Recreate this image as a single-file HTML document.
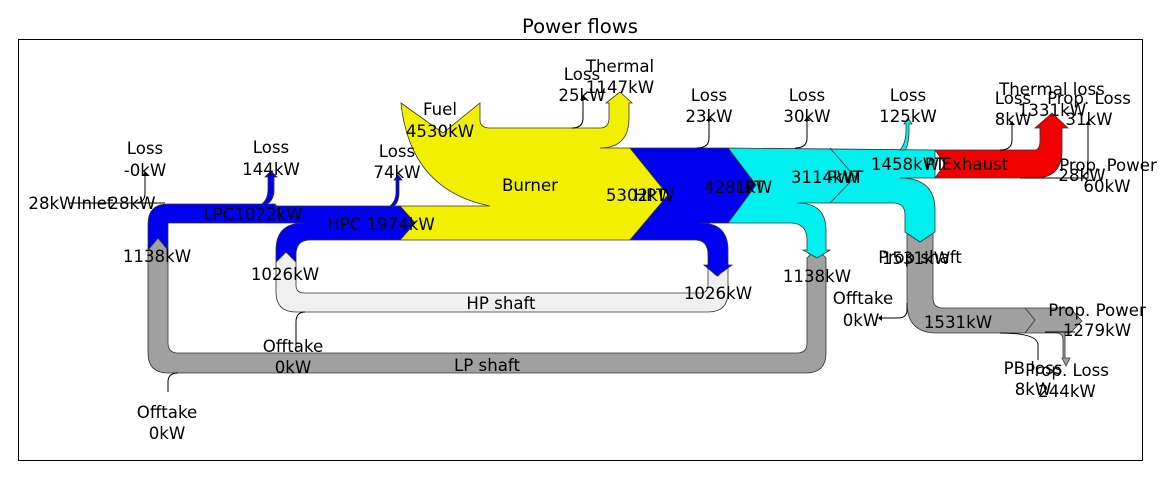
<!DOCTYPE html>
<html><head><meta charset="utf-8"><style>
html,body{margin:0;padding:0;background:#fff}
svg{display:block}
text{font-family:"DejaVu Sans","Liberation Sans",sans-serif;font-size:16.6px;fill:#000;text-anchor:middle}
</style></head><body>
<svg width="1160" height="478" viewBox="0 0 1160 478" xmlns="http://www.w3.org/2000/svg">
<rect x="0" y="0" width="1160" height="478" fill="#fff"/>
<rect x="18.5" y="39.5" width="1124" height="421" fill="none" stroke="#000" stroke-width="1"/>
<text x="580" y="33" style="font-size:19.6px">Power flows</text>

<g stroke="#333" stroke-width="0.8">
<path d="M148,250 L158,238 L168,250 L168,343 Q168,353 178,353 L797,353 Q807,353 807,343 L807,258 L817,248 L826,258 L826,353 Q826,373 806,373 L168,373 Q148,373 148,353 Z" fill="#a0a0a0"/>
<path d="M276,262 L286,252 L296,262 L296,285 Q296,293 304,293 L700,293 Q708,293 708,285 L708,265 L718,276 L728,265 L728,292 Q728,312 708,312 L296,312 Q276,312 276,292 Z" fill="#f0f0f0"/>
<path d="M907,232 L920,242 L933,232 L933,298 Q933,308 943,308 L1070,308 L1082,321 L1070,333 L1065,333 L1065,358 L1070,358 L1066,366 L1062,358 L1063,358 L1063,340 Q1063,333 1056,333 L937,333 Q907,333 907,303 Z" fill="#a0a0a0"/>
<path d="M401,103 L443,133 L480,103 L480,120 Q480,128 490,128 L600,128 Q609,128 609,118 L609,103 L606,103 L620,92 L632,103 L629,103 L629,118 Q629,148 600,148 L630,148 L668,195 L630,240 L400,240 L415,223 L400,206 L490,206 Q410,190 401,103 Z" fill="#f0f000"/>
<path d="M148,250 L148,224 Q148,204 168,204 L275,204 L275,206 L400,206 L415,223 L400,240 L310,240 Q296,240 296,255 L296,262 L286,252 L276,262 L276,250 Q276,223 304,223 L275,223 L168,223 Q168,223 168,235 L168,250 L158,238 Z" fill="#0000f0"/>
<path d="M267,204 Q274,200 274,190 L274,177 L277,177 L271,171 L265,177 L268,177 L268,190 Q268,199 262,204 Z" fill="#0000f0"/>
<path d="M394,206 Q399,202 399,192 L399,180 L402,180 L398,175 L394,180 L396,180 L396,192 Q396,201 390,206 Z" fill="#0000f0"/>
<path d="M630,148 L728,148 L756,185 L728,223 Q728,223 700,223 Q728,223 728,250 L728,265 L732,265 L717,276 L704,265 L708,265 L708,255 Q708,240 695,240 L630,240 L668,195 Z" fill="#0000f0"/>
<path d="M728,148 L935,150 L935,178 L900,178 Q935,178 935,210 L935,232 L920,242 L905,232 L905,215 Q905,203 893,203 L847,203 L797,203 Q826,203 826,230 L826,250 L830,250 L817,258 L803,250 L807,250 L807,240 Q807,223 790,223 L728,223 L756,185 Z" fill="#00f0f0"/>
<path d="M905,150 Q909,145 909,130 L909,124 L912,124 L908,118 L904,124 L906,124 L906,130 Q906,143 900,150 Z" fill="#00f0f0"/>
<path d="M935,150 L1035,150 Q1040,150 1040,140 L1040,128 L1035,128 L1052,113 L1068,128 L1062,128 L1062,150 Q1062,178 1035,178 L935,178 L945,164 Z" fill="#f00000"/>
</g>
<g fill="none" stroke="#333" stroke-width="0.8">
<path d="M830,148 L855,177 L830,203"/>
<path d="M728,148 L756,185 L728,223"/>
<path d="M275,204 L282,213 L275,223"/>
<path d="M1025,308 L1035,320 L1025,333"/>
</g>
<g fill="none" stroke="#000" stroke-width="1">
<line x1="70" y1="203" x2="165" y2="203"/>
<path d="M135,203 Q145,203 145,193 L145,175"/>
<path d="M572,128 Q583,128 583,118 L583,100"/>
<path d="M697,148 Q709,148 709,138 L709,120"/>
<path d="M795,148 Q807,148 807,138 L807,120"/>
<path d="M1000,150 Q1012,150 1012,140 L1012,124"/>
<path d="M1088,124 L1088,178 L1020,178"/>
<path d="M296,350 L296,322 Q296,312 305,312"/>
<path d="M168,392 L168,382 Q168,373 178,373"/>
<path d="M907,303 L907,310 Q907,318 898,318 L880,318"/>
<path d="M1000,333 Q1038,333 1038,345 L1038,360"/>
<line x1="1045" y1="332" x2="1075" y2="332"/>
</g>
<g fill="#000"><path d="M145,172 l-3,4 h6z"/><path d="M583,96 l-3,4 h6z"/><path d="M709,117 l-3,4 h6z"/><path d="M807,117 l-3,4 h6z"/><path d="M1012,121 l-3,4 h6z"/><path d="M1088,121 l-3,4 h6z"/><path d="M878,318 l4,-3 v6z"/></g>

<text x="145" y="154">Loss</text><text x="145" y="176">-0kW</text>
<text x="271" y="153">Loss</text><text x="271" y="175">144kW</text>
<text x="397" y="157">Loss</text><text x="397" y="178">74kW</text>
<text x="440" y="115">Fuel</text><text x="440" y="137">4530kW</text>
<text x="582" y="80">Loss</text><text x="582" y="101">25kW</text>
<text x="620" y="72">Thermal</text><text x="620" y="93">1147kW</text>
<text x="709" y="101">Loss</text><text x="709" y="122">23kW</text>
<text x="807" y="101">Loss</text><text x="807" y="122">30kW</text>
<text x="908" y="101">Loss</text><text x="908" y="122">125kW</text>
<text x="1052" y="95">Thermal loss</text><text x="1052" y="116">1331kW</text>
<text x="1013" y="104">Loss</text><text x="1013" y="125">8kW</text>
<text x="1089" y="104">Prop. Loss</text><text x="1089" y="125">31kW</text>
<text x="1108" y="171">Prop. Power</text><text x="1082" y="181">28kW</text><text x="1107" y="192">60kW</text>
<text x="52" y="209">28kW</text><text x="95" y="209">Inlet</text><text x="132" y="209">28kW</text>
<text x="253" y="220">LPC1022kW</text>
<text x="381" y="230">HPC 1974kW</text>
<text x="530" y="191">Burner</text>
<text x="640" y="201">5302kW</text><text x="650" y="201">HPT</text>
<text x="738" y="193">4281kW</text><text x="750" y="193">LPT</text>
<text x="825" y="183">3114kW</text><text x="845" y="183">PWT</text>
<text x="905" y="170">1458kW</text><text x="935" y="170">PT</text><text x="975" y="170">Exhaust</text>
<text x="157" y="262">1138kW</text>
<text x="285" y="280">1026kW</text>
<text x="718" y="299">1026kW</text>
<text x="817" y="282">1138kW</text>
<text x="501" y="309">HP shaft</text>
<text x="487" y="371">LP shaft</text>
<text x="293" y="352">Offtake</text><text x="293" y="373">0kW</text>
<text x="167" y="418">Offtake</text><text x="167" y="439">0kW</text>
<text x="863" y="304">Offtake</text><text x="861" y="326">0kW</text>
<text x="920" y="263">Prop shaft</text><text x="916" y="264">1531kW</text>
<text x="958" y="328">1531kW</text>
<text x="1097" y="316">Prop. Power</text><text x="1097" y="336">1279kW</text>
<text x="1033" y="374">PB loss</text><text x="1033" y="395">8kW</text>
<text x="1067" y="376">Prop. Loss</text><text x="1067" y="397">244kW</text>
</svg>
</body></html>
